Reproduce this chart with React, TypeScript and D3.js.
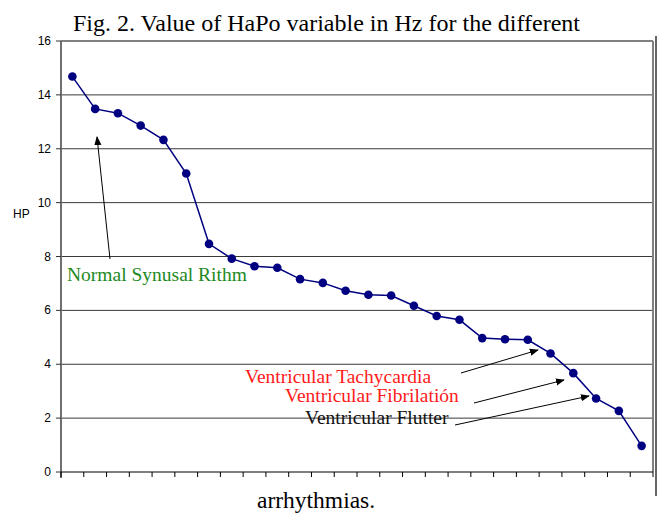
import React, { useMemo } from 'react'
import * as d3 from 'd3'

// HaPo values (Hz), one per recording, sorted high to low
const hpValues = [
    14.68, 13.48, 13.32, 12.86, 12.33, 11.08, 8.47, 7.92, 7.64, 7.58,
    7.16, 7.02, 6.73, 6.58, 6.55, 6.17, 5.79, 5.65, 4.97, 4.93,
    4.91, 4.4, 3.67, 2.73, 2.27, 0.97,
]
const yTicks = [0, 2, 4, 6, 8, 10, 12, 14, 16]

const labels = [
    { text: 'Normal Synusal Rithm', color: '#1e8a1e', x: 67, y: 281, from: [110, 259], to: [97, 137] },
    { text: 'Ventricular Tachycardia', color: '#ff1a1a', x: 245, y: 383, from: [461, 373], to: [538, 350] },
    { text: 'Ventricular Fibrilatión', color: '#ff1a1a', x: 285, y: 402, from: [474, 403], to: [564, 380] },
    { text: 'Ventricular Flutter', color: '#111', x: 305, y: 424, from: [455, 425], to: [589, 396] },
]

const W = 664
const H = 515
const left = 61
const right = 653
const top = 41
const bottom = 472

const serif = '"Liberation Serif", "Times New Roman", serif'
const sans = '"Liberation Sans", Arial, sans-serif'

export default function App() {
    const idx = hpValues.map((_, i) => i)

    const x = useMemo(() => (
        d3.scaleBand<number>()
            .domain(idx)
            .range([left, right])
            .padding(0)
    ), [])

    const y = useMemo(() => (
        d3.scaleLinear()
            .domain([0, 16])
            .range([bottom, top])
    ), [])

    const line = d3.line<number>()
        .x((_, i) => x(i)! + x.bandwidth() / 2)
        .y(d => y(d))

    const bounds = idx.map(i => x(i)!).concat([right])

    return (
        <svg width={W} height={H} style={{ position: 'absolute', left: 0, top: 0, background: '#fff' }}>
            <defs>
                <marker id="arr" viewBox="0 0 10 10" refX="9" refY="5" markerWidth="9" markerHeight="9" orient="auto-start-reverse" markerUnits="userSpaceOnUse">
                    <path d="M0,1 L10,5 L0,9 z" fill="#000" />
                </marker>
            </defs>

            <text x={73} y={31} fontFamily={serif} fontSize={24} fill="#000">
                Fig. 2. Value of HaPo variable in Hz for the different
            </text>

            {/* gridlines */}
            {yTicks.filter(t => t > 0 && t < 16).map(t => (
                <line key={t} x1={left} x2={right} y1={y(t)} y2={y(t)} stroke="#3a3a3a" strokeWidth={1} />
            ))}

            {/* plot frame */}
            <line x1={left} x2={right} y1={top} y2={top} stroke="#808080" strokeWidth={2} />
            <line x1={right} x2={right} y1={top} y2={bottom} stroke="#808080" strokeWidth={2} />
            <line x1={656} x2={656} y1={36} y2={496} stroke="#666" strokeWidth={2} />

            {/* y axis */}
            <line x1={left} x2={left} y1={top} y2={bottom + 6} stroke="#707070" strokeWidth={2} />
            {yTicks.map(t => (
                <g key={t}>
                    <line x1={left - 5} x2={left} y1={y(t)} y2={y(t)} stroke="#333" strokeWidth={1} />
                    <text x={51} y={y(t) + 4} textAnchor="end" fontFamily={sans} fontSize={12} fill="#000">{t}</text>
                </g>
            ))}
            <text x={13} y={218} fontFamily={sans} fontSize={12} fill="#000">HP</text>

            {/* x axis */}
            <line x1={left} x2={right} y1={bottom} y2={bottom} stroke="#000" strokeWidth={1.2} />
            {bounds.map((b, i) => (
                <line key={i} x1={b} x2={b} y1={bottom} y2={bottom + 5} stroke="#000" strokeWidth={1} />
            ))}

            {/* series */}
            <path d={line(hpValues)!} fill="none" stroke="#000080" strokeWidth={1.5} />
            {hpValues.map((v, i) => (
                <circle key={i} cx={x(i)! + x.bandwidth() / 2} cy={y(v)} r={4.3} fill="#000080" />
            ))}

            {/* annotations */}
            {labels.map(l => (
                <g key={l.text}>
                    <text x={l.x} y={l.y} fontFamily={serif} fontSize={19.5} fill={l.color}>{l.text}</text>
                    <line x1={l.from[0]} y1={l.from[1]} x2={l.to[0]} y2={l.to[1]} stroke="#000" strokeWidth={1} markerEnd="url(#arr)" />
                </g>
            ))}

            <text x={257} y={508} fontFamily={serif} fontSize={23.5} fill="#000">arrhythmias.</text>
        </svg>
    )
}
